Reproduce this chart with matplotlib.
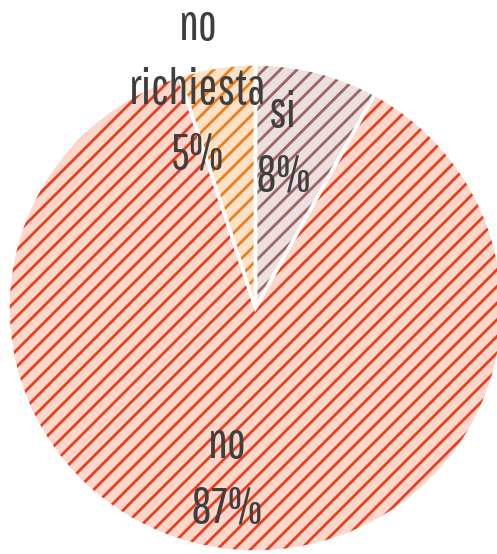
import matplotlib
matplotlib.use("Agg")
import matplotlib.pyplot as plt
from matplotlib import font_manager as fm

# data
categories = ["si", "no", "no richiesta"]
values = [8, 87, 5]
face_colors = ["#ecdfdf", "#fdd6cc", "#fde2c8"]
hatch_colors = ["#9c6464", "#e8401e", "#f07d1c"]

plt.rcParams['hatch.linewidth'] = 2.0

# choose a condensed face of medium/bold weight
def pick_font():
    for fam in ['Yanone Kaffeesatz', 'Pathway Gothic One', 'Cabin Condensed']:
        cands = [f for f in fm.fontManager.ttflist if f.name == fam]
        if not cands:
            continue
        heavy = [f for f in cands if isinstance(f.weight, int) and 500 <= f.weight <= 700
                 and f.style == 'normal']
        if heavy:
            heavy.sort(key=lambda f: abs(f.weight - 600))
            return fm.FontProperties(fname=heavy[0].fname)
        if fam != 'Yanone Kaffeesatz':
            return fm.FontProperties(fname=cands[0].fname)
    return fm.FontProperties(family='DejaVu Sans')

W, H = 497, 554
fig = plt.figure(figsize=(W / 100, H / 100), dpi=100)
ax = fig.add_axes([0, 0, 1, 1])

cx, cy = 255.5, 308.0
rx, ry = 247.5, 244.0

# hatched layer
wedges, _ = ax.pie(values, startangle=90, counterclock=False, radius=1,
                   colors=face_colors, wedgeprops=dict(linewidth=0))
for w, hc in zip(wedges, hatch_colors):
    w.set_hatch('//')
    w.set_edgecolor(hc)
    w.set_linewidth(0)
# white separators
ax.pie(values, startangle=90, counterclock=False, radius=1,
       colors=['none'] * len(values),
       wedgeprops=dict(linewidth=2.5, edgecolor='white', fill=False))

ax.set_aspect('auto')
ax.set_xlim(-cx / rx, (W - cx) / rx)
ax.set_ylim(-(H - cy) / ry, cy / ry)
ax.axis('off')

fp = pick_font()
fp.set_size(36)

# labels: anchor x, first baseline y (pixels from top), line step
label_pos = {"si": (283, 127), "no": (227, 458), "no richiesta": (198, 40)}
step = 64
total = sum(values)
for cat, v in zip(categories, values):
    lines = cat.split(' ') + [f"{round(100 * v / total)}%"]
    x0, y0 = label_pos[cat]
    for i, line in enumerate(lines):
        fig.text(x0 / W, 1 - (y0 + i * step) / H, line, ha='center', va='baseline',
                 fontproperties=fp, color='#3f3f3f')

fig.savefig('out.png', dpi=100)
